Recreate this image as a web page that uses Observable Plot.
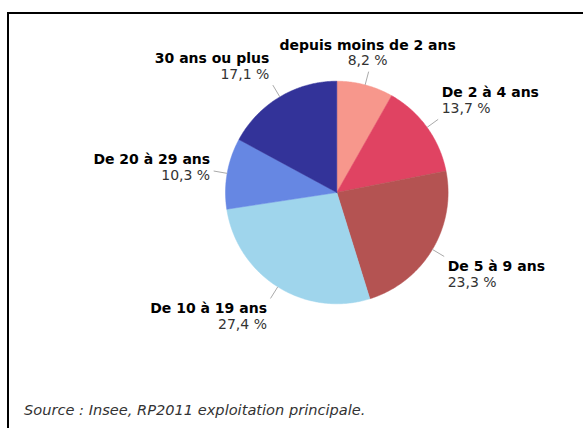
<!DOCTYPE html>
<html><head><meta charset="utf-8">
<script src="https://cdn.jsdelivr.net/npm/d3@7"></script>
<script src="https://cdn.jsdelivr.net/npm/@observablehq/plot@0.6"></script>
<style>
html,body{margin:0;padding:0;background:#fff;}
#wrap{position:relative;width:583px;height:428px;overflow:hidden;font-family:"DejaVu Sans",Verdana,sans-serif;}
#chart{position:absolute;left:0;top:0;}
#frame{position:absolute;left:7px;top:12px;width:800px;height:800px;border-left:2px solid #000;border-top:2px solid #000;}
#source{position:absolute;left:24px;top:403px;font-style:italic;font-size:14.6px;line-height:1;color:#333;white-space:nowrap;}
</style></head>
<body>
<div id="wrap"><div id="chart"></div><div id="frame"></div><div id="source"></div></div>
<script>
// ---- data ----
const categories = ["depuis moins de 2 ans", "De 2 à 4 ans", "De 5 à 9 ans", "De 10 à 19 ans", "De 20 à 29 ans", "30 ans ou plus"];
const shares = [8.2, 13.7, 23.3, 27.4, 10.3, 17.1];
const colors = ["#F7978C", "#E04362", "#B45352", "#9FD5EC", "#6687E3", "#333399"];
const sourceText = "Source : Insee, RP2011 exploitation principale.";

document.getElementById("source").textContent = sourceText;

const total = d3.sum(shares);
const fmt = v => v.toFixed(1).replace(".", ",") + " %";
const PX = 111.3; // pixels per unit radius

// slice angles (clockwise from 12 o'clock)
let cum = 0;
const slices = categories.map((cat, i) => {
  const a0 = cum / total * 2 * Math.PI;
  cum += shares[i];
  const a1 = cum / total * 2 * Math.PI;
  return {cat, value: shares[i], a0, a1, mid: (a0 + a1) / 2};
});

// polygon outlines of slices
const poly = [];
for (const s of slices) {
  poly.push({cat: s.cat, x: 0, y: 0});
  const n = Math.max(2, Math.ceil((s.a1 - s.a0) * 180 / Math.PI * 2));
  for (let k = 0; k <= n; k++) {
    const t = s.a0 + (s.a1 - s.a0) * k / n;
    poly.push({cat: s.cat, x: Math.sin(t), y: Math.cos(t)});
  }
  poly.push({cat: s.cat, x: 0, y: 0});
}

// label layout
const rEnd = 125 / PX;
const labels = slices.map(s => {
  const sn = Math.sin(s.mid), cs = Math.cos(s.mid);
  const ex = rEnd * sn, ey = rEnd * cs;
  const f = Math.max(-1, Math.min(1, (cs - 0.1) / 0.4));
  const nameDy = -3.5 - 18.5 * f;          // px, baseline of name relative to leader end
  const valDy = nameDy + 15.5;
  const anchor = sn > 0.3 ? "start" : sn < -0.3 ? "end" : "middle";
  const dxPx = anchor === "start" ? 3.5 : anchor === "end" ? -3.5 : -1;
  const mid = 0.32 * 14; // baseline -> middle offset
  return {
    cat: s.cat, val: fmt(s.value), anchor,
    x1: 1.0 * sn, y1: 1.0 * cs, x2: ex, y2: ey,
    lx: ex + dxPx / PX,
    nameY: ey - (nameDy - mid) / PX,
    valY: ey - (valDy - mid) / PX
  };
});

const textMarks = [];
for (const a of ["start", "end", "middle"]) {
  textMarks.push(Plot.text(labels, {filter: d => d.anchor === a, x: "lx", y: "nameY", text: "cat", textAnchor: a, fontWeight: "bold", fontSize: 14, fill: "#000"}));
  textMarks.push(Plot.text(labels, {filter: d => d.anchor === a, x: "lx", y: "valY", text: "val", textAnchor: a, fontSize: 14, fill: "#333"}));
}

const chart = Plot.plot({
  width: 583, height: 428,
  marginTop: 0, marginRight: 0, marginBottom: 0, marginLeft: 0,
  style: {fontFamily: "DejaVu Sans", background: "transparent"},
  x: {domain: [-1, 1], range: [225, 447.6], axis: null},
  y: {domain: [-1, 1], range: [303.3, 80.7], axis: null},
  color: {domain: categories, range: colors},
  marks: [
    Plot.line(poly, {x: "x", y: "y", z: "cat", fill: "cat", stroke: "cat", strokeWidth: 0.5, curve: "linear"}),
    Plot.link(labels, {x1: "x1", y1: "y1", x2: "x2", y2: "y2", stroke: "#aaa", strokeWidth: 1}),
    ...textMarks
  ]
});
document.getElementById("chart").appendChild(chart);
</script>
</body></html>
